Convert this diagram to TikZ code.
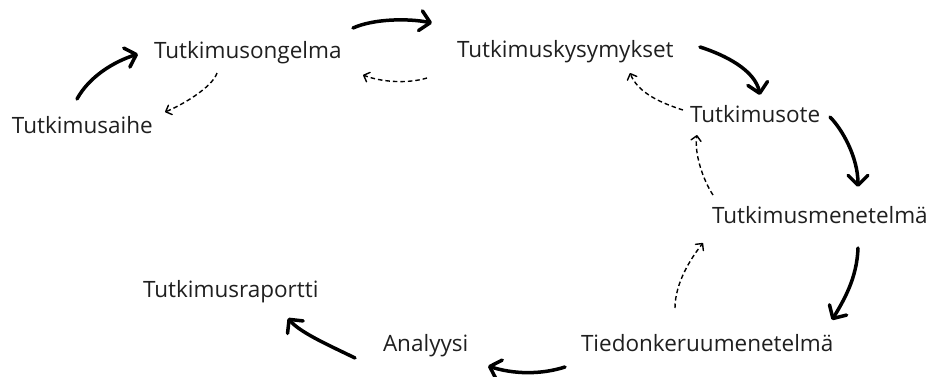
\documentclass[tikz,border=0pt]{standalone}
\usepackage{fontspec}
\setmainfont{Open Sans}
\usetikzlibrary{arrows.meta}
\begin{document}
\begin{tikzpicture}[x=1pt,y=-1pt,
  lbl/.style={anchor=base west,inner sep=0pt,outer sep=0pt,text=black!88,font=\fontsize{22.5}{27}\selectfont},
  mainarrow/.style={line width=3.5pt,line cap=round,line join=round,
    -{Straight Barb[length=10pt,width=20pt,line cap=round,line join=round]}},
  backarrow/.style={line width=1.4pt,dash pattern=on 4.5pt off 3pt,
    -{Straight Barb[length=5pt,width=10pt,line cap=round,line join=round]}}]
\useasboundingbox (0,0) rectangle (930,376);
\node[lbl] (aihe) at (12,133) {Tutkimusaihe};
\node[lbl] (ongelma) at (154,58) {Tutkimusongelma};
\node[lbl] (kysymykset) at (457,57) {Tutkimuskysymykset};
\node[lbl] (ote) at (690,122) {Tutkimusote};
\node[lbl] (menetelma) at (712,223) {Tutkimusmenetelmä};
\node[lbl] (raportti) at (143,297) {Tutkimusraportti};
\node[lbl] (analyysi) at (383,351) {Analyysi};
\node[lbl] (tiedon) at (581,351) {Tiedonkeruumenetelmä};
% main flow
\draw[mainarrow] ([shift={(65,-34)}]aihe.base west) .. controls +(12,-22) and +(-25,8) .. ([shift={(-16,-4)}]ongelma.base west);
\draw[mainarrow] ([shift={(199,-30)}]ongelma.base west) .. controls +(20,-9) and +(-25,-5) .. ([shift={(-25,-34)}]kysymykset.base west);
\draw[mainarrow] ([shift={(243,-10)}]kysymykset.base west) .. controls +(25,8) and +(-5,-25) .. ([shift={(70,-27)}]ote.base west);
\draw[mainarrow] ([shift={(140,-5)}]ote.base west) .. controls +(12,12) and +(0,-30) .. ([shift={(146,-36)}]menetelma.base west);
\draw[mainarrow] ([shift={(146,25)}]menetelma.base west) .. controls +(-1,30) and +(12,-20) .. ([shift={(251,-31)}]tiedon.base west);
\draw[mainarrow] ([shift={(-16,16)}]tiedon.base west) .. controls +(-25,8) and +(25,8) .. ([shift={(105,15)}]analyysi.base west);
\draw[mainarrow] ([shift={(-28,7)}]analyysi.base west) .. controls +(-20,-10) and +(12,15) .. ([shift={(145,21)}]raportti.base west);
% feedback
\draw[backarrow] ([shift={(63,15)}]ongelma.base west) .. controls +(-5,15) and +(15,-6) .. ([shift={(153,-21)}]aihe.base west);
\draw[backarrow] ([shift={(-30,21)}]kysymykset.base west) .. controls +(-20,6) and +(18,7) .. ([shift={(209,17)}]ongelma.base west);
\draw[backarrow] ([shift={(-7,-12)}]ote.base west) .. controls +(-22,-7) and +(8,20) .. ([shift={(173,16)}]kysymykset.base west);
\draw[backarrow] ([shift={(1,-28)}]menetelma.base west) .. controls +(-10,-15) and +(-3,18) .. ([shift={(7,13)}]ote.base west);
\draw[backarrow] ([shift={(94,-43)}]tiedon.base west) .. controls +(0,-25) and +(-12,15) .. ([shift={(-9,20)}]menetelma.base west);
\end{tikzpicture}
\end{document}
